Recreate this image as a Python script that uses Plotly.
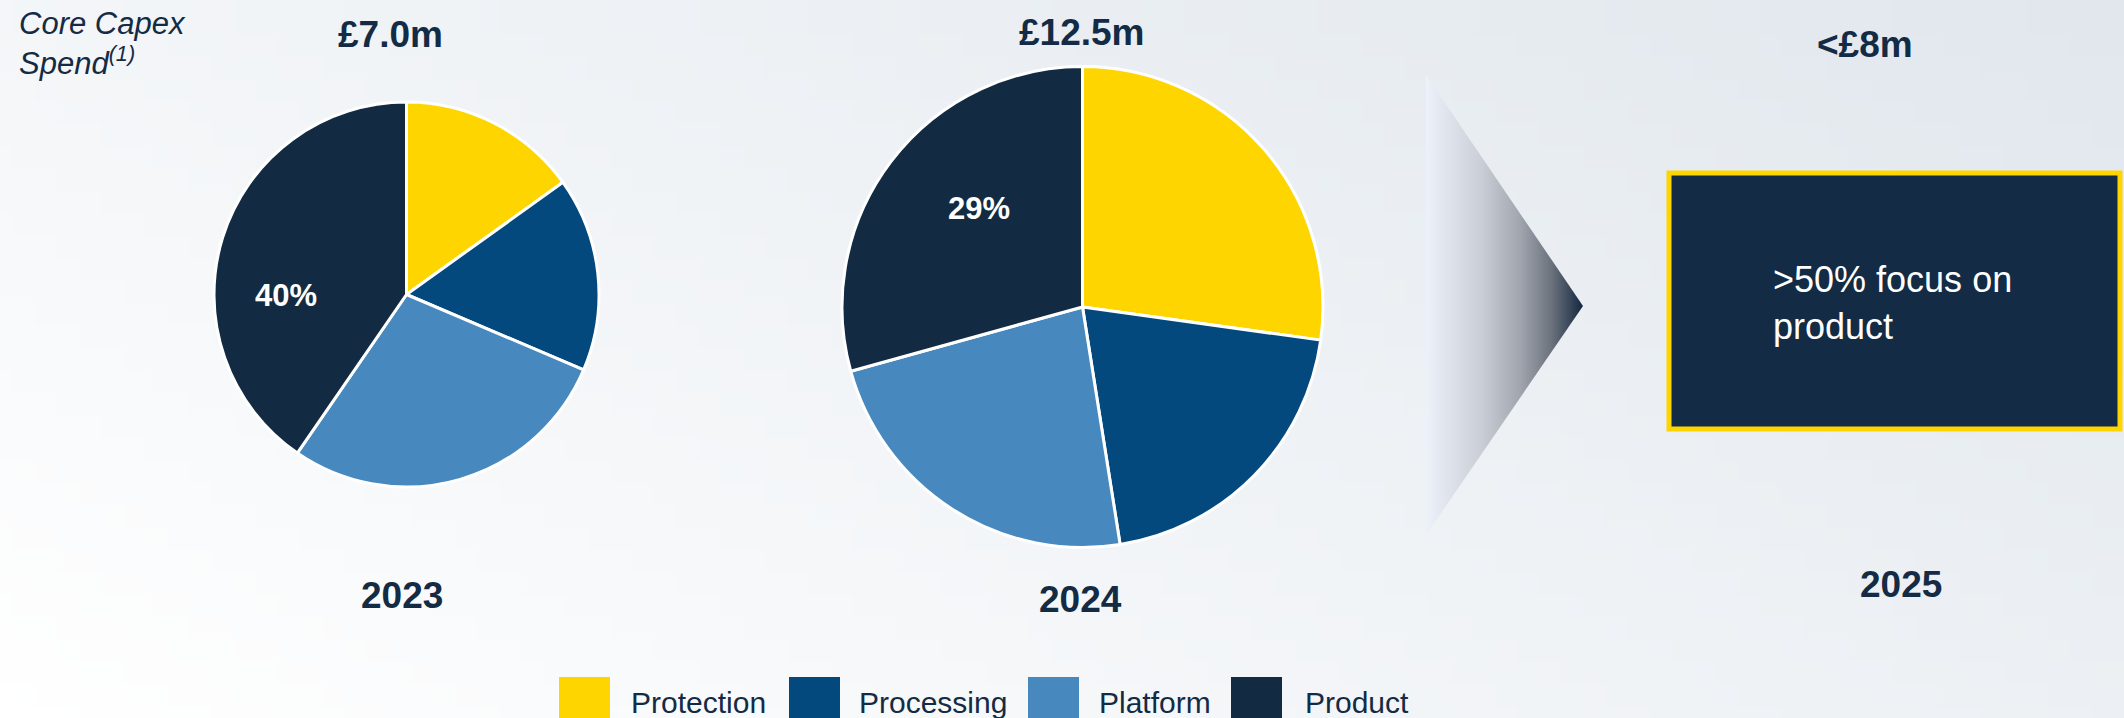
import base64, struct, zlib
import plotly.graph_objects as go

# ---------------- data ----------------
CATEGORIES = ["Protection", "Processing", "Platform", "Product"]
SHARE_2023 = [15.1, 16.3, 28.2, 40.4]
SHARE_2024 = [27.2, 20.3, 23.2, 29.3]
LABEL_2023 = "40%"
LABEL_2024 = "29%"
YEARS = ["2023", "2024", "2025"]
TOTALS = ["£7.0m", "£12.5m", "<£8m"]
OUTLOOK_TEXT = ">50% focus on<br>product"
SIDE_TITLE = "<i>Core Capex<br>Spend<sup>(1)</sup></i>"

# ---------------- styles ----------------
COLORS = ["#FFD500", "#04497D", "#4788BE", "#132B42"]
NAVY = "#132B44"
W, H = 2124, 718
FONT = "Liberation Sans, Arial, sans-serif"


def gradient_png(w, h):
    # decorative light background wash (white bottom-left -> pale grey-blue top-right)
    c0 = (255, 255, 255)
    c1 = (225, 231, 237)
    raw = b""
    for j in range(h):
        raw += b"\x00"
        v = j / (h - 1)
        for i in range(w):
            u = i / (w - 1)
            t = 0.62 * u + 0.38 * (1 - v)
            raw += bytes(int(round(c0[k] + (c1[k] - c0[k]) * t)) for k in range(3))
    def chunk(tag, data):
        return struct.pack(">I", len(data)) + tag + data + struct.pack(">I", zlib.crc32(tag + data) & 0xffffffff)
    png = b"\x89PNG\r\n\x1a\n" + chunk(b"IHDR", struct.pack(">IIBBBBB", w, h, 8, 2, 0, 0, 0))
    png += chunk(b"IDAT", zlib.compress(raw, 9)) + chunk(b"IEND", b"")
    return "data:image/png;base64," + base64.b64encode(png).decode()


def dom(x0, x1, y0, y1):
    return dict(x=[x0 / W, x1 / W], y=[1 - y1 / H, 1 - y0 / H])


fig = go.Figure()

pie_common = dict(
    labels=CATEGORIES, sort=False, direction="clockwise", rotation=0,
    marker=dict(colors=COLORS, line=dict(color="white", width=3)),
    textinfo="none", hoverinfo="skip", showlegend=False,
)
fig.add_trace(go.Pie(values=SHARE_2023, domain=dom(214, 599, 102, 487), **pie_common))
fig.add_trace(go.Pie(values=SHARE_2024, domain=dom(842, 1323, 66, 548), **pie_common))

# chevron arrow with horizontal gradient
fig.add_trace(go.Scatter(
    x=[1426, 1583, 1426, 1426], y=[75, 306, 535, 75],
    mode="lines", fill="toself", line=dict(width=0),
    fillgradient=dict(type="horizontal", colorscale=[
        [0, "#EDF1F9"], [0.35, "#CACFD7"], [0.6, "#A0A5AE"], [0.8, "#6C727D"], [1, "#132840"]]),
    hoverinfo="skip", showlegend=False,
))

shapes = [
    dict(type="rect", xref="x", yref="y", x0=1669, x1=2120, y0=173, y1=429,
         fillcolor=NAVY, line=dict(color="#FFD500", width=5), layer="above"),
]

annotations = []
def txt(x, y, s, size, bold=False, color=NAVY, xanchor="center", align="center"):
    annotations.append(dict(
        x=x, y=y, xref="x", yref="y", text=s, showarrow=False,
        xanchor=xanchor, yanchor="middle", align=align,
        font=dict(family=FONT, size=size, color=color, weight="bold" if bold else "normal"),
    ))

# totals and years
for (tx, ty), s in zip([(390, 34), (1082, 32), (1865, 44)], TOTALS):
    txt(tx, ty, s, 37, bold=True)
for (tx, ty), s in zip([(402, 595), (1080, 599), (1901, 584)], YEARS):
    txt(tx, ty, s, 37, bold=True)

# product share labels inside the pies
txt(286, 295, LABEL_2023, 31, bold=True, color="white")
txt(979, 208, LABEL_2024, 31, bold=True, color="white")

txt(17, 43, SIDE_TITLE, 31, xanchor="left", align="left")
txt(1771, 303, OUTLOOK_TEXT, 36, color="white", xanchor="left", align="left")

# manual legend
LEGEND_SQ_X = [559, 789, 1028, 1231]
LEGEND_TX_X = [629, 857, 1097, 1303]
for sx, tx, lab, col in zip(LEGEND_SQ_X, LEGEND_TX_X, CATEGORIES, COLORS):
    shapes.append(dict(type="rect", xref="x", yref="y", x0=sx, x1=sx + 51, y0=677, y1=728,
                       fillcolor=col, line=dict(width=0)))
    txt(tx, 702, lab, 30, xanchor="left", align="left")

fig.update_layout(
    width=W, height=H, margin=dict(l=0, r=0, t=0, b=0),
    paper_bgcolor="white", plot_bgcolor="rgba(0,0,0,0)",
    xaxis=dict(range=[0, W], visible=False, fixedrange=True),
    yaxis=dict(range=[H, 0], visible=False, fixedrange=True),
    shapes=shapes, annotations=annotations,
    images=[dict(source=gradient_png(96, 32), xref="paper", yref="paper", x=0, y=1,
                 sizex=1, sizey=1, sizing="stretch", xanchor="left", yanchor="top", layer="below")],
    font=dict(family=FONT),
)

fig.write_html("out.html", config={"displayModeBar": False},
               post_script="document.body.style.margin='0';document.body.style.overflow='hidden';")
